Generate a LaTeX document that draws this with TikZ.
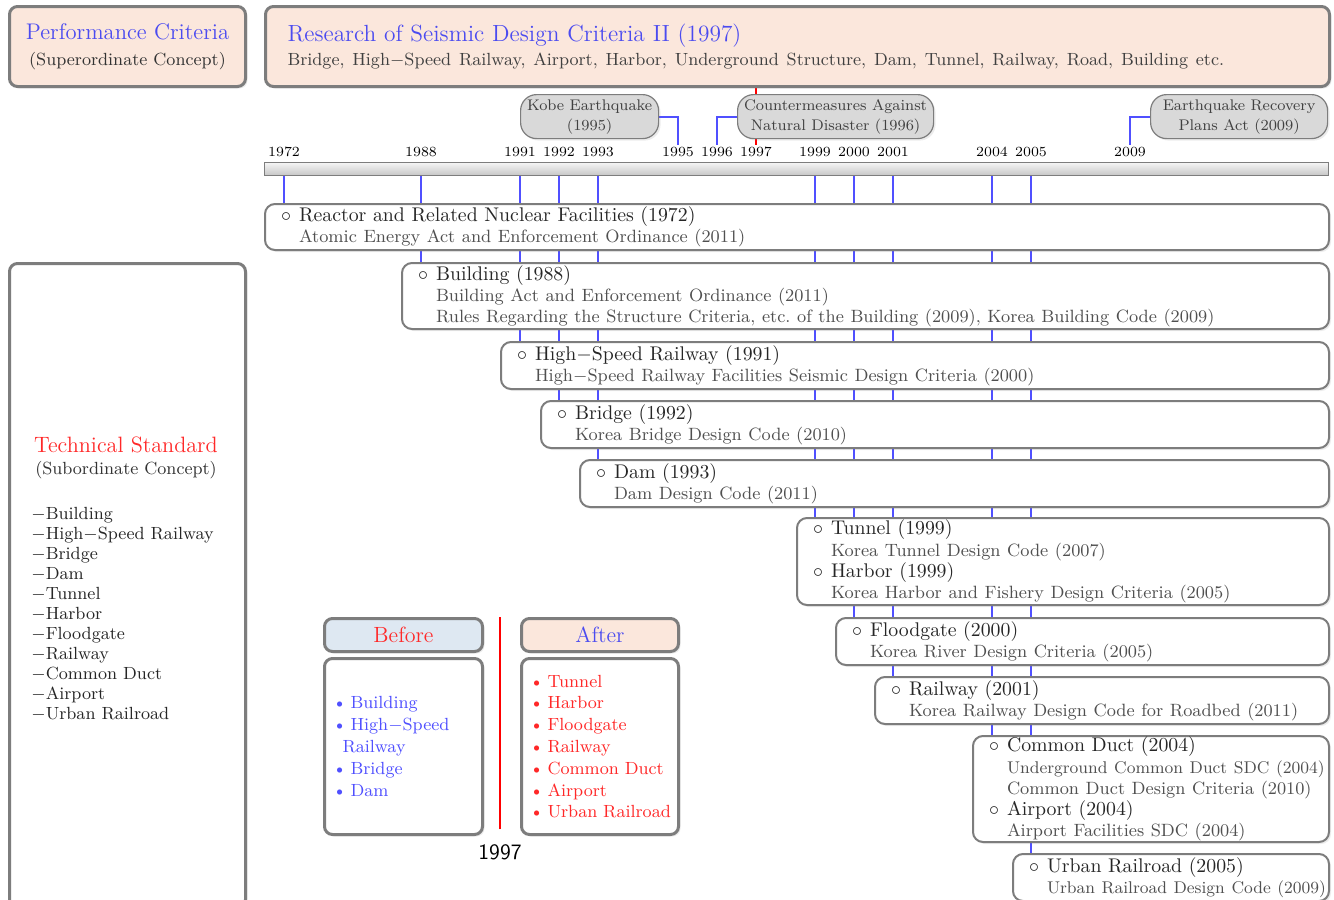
\documentclass[tikz,border=0pt]{standalone}
\usepackage{tikz}
\usetikzlibrary{positioning,backgrounds,shadows}
\definecolor{peach}{RGB}{251,231,220}
\definecolor{paleblue}{RGB}{222,232,242}
\definecolor{boxgray}{RGB}{125,125,125}
\definecolor{evgray}{RGB}{217,217,217}
\definecolor{lineblue}{RGB}{80,80,255}
\definecolor{headblue}{RGB}{75,75,240}
\definecolor{headred}{RGB}{255,40,40}
\definecolor{subgray}{RGB}{80,80,80}
\newcommand{\stdtitle}[1]{\mbox{\makebox[9pt][l]{$\circ$}#1}}
\newcommand{\stdsub}[2][8.9]{\mbox{\hspace*{9pt}\fontsize{#1}{10.6}\selectfont\textcolor{subgray}{#2}}}
\newcommand{\blt}[1]{\mbox{\textbullet\kern2pt#1}}
\tikzset{
    timeline/.style={x=0.5pt,y=-0.5pt},
    headbox/.style={draw=boxgray, line width=1.5pt, rounded corners=4pt, fill=peach,
                    anchor=north west, inner sep=0pt,
                    drop shadow={opacity=0.15,shadow xshift=1pt,shadow yshift=-1pt}},
    stdbox/.style={draw=boxgray, line width=1pt, rounded corners=5pt, fill=white,
                   anchor=north west, align=left, inner xsep=8pt, inner ysep=0pt,
                   text=black!85, font=\fontsize{9.9}{10.6}\selectfont,
                   drop shadow={opacity=0.15,shadow xshift=1pt,shadow yshift=-1pt}},
    listbox/.style={headbox, fill=white, align=left, inner xsep=4pt,
                    font=\fontsize{8.8}{10.9}\selectfont},
    eventbox/.style={draw=boxgray, line width=0.6pt, fill=evgray, rounded corners=8pt,
                     anchor=north west, align=center, inner sep=0pt, minimum height=22pt,
                     text=black!75, font=\fontsize{7.7}{10}\selectfont,
                     drop shadow={opacity=0.15,shadow xshift=1pt,shadow yshift=-1pt}},
    bar/.style={draw=boxgray, line width=0.6pt, top color=gray!8, bottom color=gray!45,
                anchor=north west, inner sep=0pt},
    year/.style={font=\fontsize{7}{8}\selectfont, inner sep=1pt},
    yearline/.style={draw=lineblue, line width=1pt},
}

\begin{document}
\begin{tikzpicture}[timeline]
\useasboundingbox (0,0) rectangle (1334,900);

% concept boxes
\node[headbox, minimum width=118pt, minimum height=40pt, align=center,
      font=\fontsize{11.3}{13}\selectfont] (perf) at (8,5)
      {\textcolor{headblue}{Performance Criteria}\\{\fontsize{8.8}{13}\selectfont\textcolor{black!80}{(Superordinate Concept)}}};
\node[headbox, minimum height=40pt, text width=510pt, align=left, inner xsep=11pt,
      font=\fontsize{11.7}{12}\selectfont] (research) at (264,5)
      {\textcolor{headblue}{Research of Seismic Design Criteria II (1997)}\\{\fontsize{8.8}{12}\selectfont\textcolor{black!75}{Bridge, High$-$Speed Railway, Airport, Harbor, Underground Structure, Dam, Tunnel, Railway, Road, Building etc.}}};

% time axis
\node[bar, minimum width=532pt, minimum height=6.5pt] (bar) at (264,162) {};
\foreach \yr/\px in {1972/284, 1988/421, 1991/520, 1992/559, 1993/598, 1995/678, 1996/717,
                     1997/756, 1999/815, 2000/854, 2001/893, 2004/992, 2005/1031, 2009/1130}
    \node[year] (y\yr) at (\px,152) {\yr};

\node[eventbox, minimum width=69pt] (kobe) at (520,94) {Kobe Earthquake\\(1995)};
\node[eventbox, minimum width=98pt] (counter) at (737,94) {Countermeasures Against\\Natural Disaster (1996)};
\node[eventbox, minimum width=88.5pt] (recovery) at (1150,94) {Earthquake Recovery\\Plans Act (2009)};

% technical standards
\node[stdbox, text width=516pt, minimum height=23pt] (reactor) at (264,203)
    {\stdtitle{Reactor and Related Nuclear Facilities (1972)}\\\stdsub{Atomic Energy Act and Enforcement Ordinance (2011)}};
\node[stdbox, text width=447.5pt, minimum height=33pt] (building) at (401,262)
    {\stdtitle{Building (1988)}\\\stdsub{Building Act and Enforcement Ordinance (2011)}\\\stdsub{Rules Regarding the Structure Criteria, etc.\ of the Building (2009), Korea Building Code (2009)}};
\node[stdbox, text width=398pt, minimum height=23.5pt] (hsr) at (500,341)
    {\stdtitle{High$-$Speed Railway (1991)}\\\stdsub{High$-$Speed Railway Facilities Seismic Design Criteria (2000)}};
\node[stdbox, text width=378pt, minimum height=23.5pt] (bridge) at (540,400)
    {\stdtitle{Bridge (1992)}\\\stdsub{Korea Bridge Design Code (2010)}};
\node[stdbox, text width=358.5pt, minimum height=23.5pt] (dam) at (579,459)
    {\stdtitle{Dam (1993)}\\\stdsub{Dam Design Code (2011)}};
\node[stdbox, text width=250pt, minimum height=43.5pt] (tunnel) at (796,517)
    {\stdtitle{Tunnel (1999)}\\\stdsub{Korea Tunnel Design Code (2007)}\\\stdtitle{Harbor (1999)}\\\stdsub{Korea Harbor and Fishery Design Criteria (2005)}};
\node[stdbox, text width=230.5pt, minimum height=23.5pt] (flood) at (835,617)
    {\stdtitle{Floodgate (2000)}\\\stdsub{Korea River Design Criteria (2005)}};
\node[stdbox, text width=211pt, minimum height=23.5pt] (railway) at (874,676)
    {\stdtitle{Railway (2001)}\\\stdsub{Korea Railway Design Code for Roadbed (2011)}};
\node[stdbox, text width=162pt, minimum height=53pt] (duct) at (972,735)
    {\stdtitle{Common Duct (2004)}\\\stdsub[8.5]{Underground Common Duct SDC (2004)}\\\stdsub{Common Duct Design Criteria (2010)}\\\stdtitle{Airport (2004)}\\\stdsub{Airport Facilities SDC (2004)}};
\node[stdbox, text width=142pt, minimum height=23.5pt] (urban) at (1012,853)
    {\stdtitle{Urban Railroad (2005)}\\\stdsub[8.5]{Urban Railroad Design Code (2009)}};

% subordinate concept
\node[headbox, fill=white, minimum width=118pt, minimum height=322pt] (techbox) at (8,262) {};
\node[align=center, font=\fontsize{11.1}{11}\selectfont] (techhead) at (126,458)
    {\textcolor{headred}{Technical Standard}\\{\fontsize{8.8}{11}\selectfont\textcolor{black!80}{(Subordinate Concept)}}};
\node[anchor=north west, align=left, inner sep=0pt, text=black!85,
      font=\fontsize{8.8}{10}\selectfont] (techlist) at (31,507)
    {$-$Building\\$-$High$-$Speed Railway\\$-$Bridge\\$-$Dam\\$-$Tunnel\\$-$Harbor\\$-$Floodgate\\$-$Railway\\$-$Common Duct\\$-$Airport\\$-$Urban Railroad};

% before and after 1997
\node[headbox, fill=paleblue, minimum width=79pt, minimum height=16.5pt,
      font=\fontsize{11}{13}\selectfont, text=headred] (before) at (323,617) {Before};
\node[headbox, minimum width=78.5pt, minimum height=16.5pt,
      font=\fontsize{11}{13}\selectfont, text=headblue] (after) at (520,617) {After};
\node[listbox, text width=71pt, minimum height=88pt, text=lineblue] (beforelist) at (323,657)
    {\blt{Building}\\\blt{High$-$Speed}\\\hspace*{5pt}Railway\\\blt{Bridge}\\\blt{Dam}};
\node[listbox, text width=70.5pt, minimum height=88pt, text=headred] (afterlist) at (520,657)
    {\blt{Tunnel}\\\blt{Harbor}\\\blt{Floodgate}\\\blt{Railway}\\\blt{Common Duct}\\\blt{Airport}\\\blt{Urban Railroad}};
\node[font=\sffamily\fontsize{11}{13}\selectfont] (yr1997) at (500,852) {1997};

\begin{pgfonlayer}{background}
    \draw[red, line width=1pt] (research.south -| y1997) -- (y1997.north);
    \draw[red, line width=1pt, shorten <=4pt] (yr1997.north) -- (yr1997 |- before.north);
    \foreach \yr/\target in {1972/reactor, 1988/building, 1991/hsr, 1992/bridge, 1993/dam,
                             1999/tunnel, 2000/flood, 2001/railway, 2004/duct, 2005/urban}
        \draw[yearline] (y\yr |- bar.south) -- (y\yr |- \target.north);
    \draw[yearline] (y1995.north) |- (kobe.east);
    \draw[yearline] (y1996.north) |- (counter.west);
    \draw[yearline] (y2009.north) |- (recovery.west);
\end{pgfonlayer}
\end{tikzpicture}
\end{document}
